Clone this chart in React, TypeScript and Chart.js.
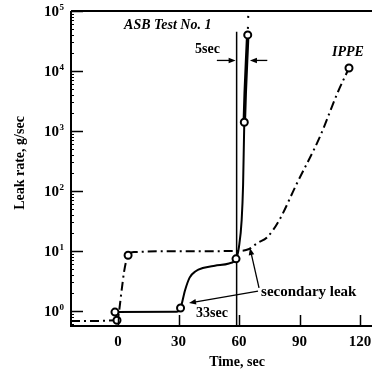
import { useEffect, useRef } from 'react';
import { Chart, registerables } from 'chart.js';

Chart.register(...registerables);

// ---- data ----
const asbTime = [-1.5, 29, 31, 33.2, 35.5, 38.5, 42, 48, 55, 58.5, 60, 61.3, 62, 62.6, 64.3];
const asbRate = [0.96, 0.97, 1.12, 2.2, 3.6, 4.6, 5.2, 5.7, 6.2, 7.4, 12, 33, 126, 1400, 40000];
const asbMarked = [true, false, true, false, false, false, false, false, false, true, false, false, false, true, true];

const asbTraceTime = [64.3, 64.6];
const asbTraceRate = [40000, 95000];

const ippeTime = [-23.3, -0.5, 2, 3, 5, 8, 30, 58, 65, 69, 74, 80, 88.3, 100, 109, 114.5];
const ippeRate = [0.68, 0.7, 2.5, 4.5, 8.5, 9.6, 9.9, 10, 10.8, 13.5, 17, 33, 126, 790, 4470, 11200];
const ippeMarked = [false, true, false, false, true, false, false, false, false, false, false, false, false, false, false, true];

const refLineTime = [58.8, 58.8];
const refLineRate = [0.5623, 45000];

const xTicks = [0, 30, 60, 90, 120];
const yTickExponents = [0, 1, 2, 3, 4, 5];

const xMin = -23.3;
const xMax = 125.9;
const yMin = 0.5623;
const yMax = 1e5;

// annotation anchors (data coordinates)
const fiveSecLeft = { from: [49, 15000], to: [58.3, 15000] };
const fiveSecRight = { from: [74, 15000], to: [65.4, 15000] };
const leakArrowUp = { from: [69.9, 2.42], to: [65.4, 11.2] };
const leakArrowLeft = { from: [69.4, 2.15], to: [35.2, 1.36] };

const pts = (xs: number[], ys: number[]) => xs.map((x, i) => ({ x, y: ys[i] }));

const SERIF = '"Liberation Serif", "DejaVu Serif", serif';

const overlay = {
  id: 'overlay',
  afterDraw(chart: any) {
    const { ctx, chartArea: a, scales } = chart;
    const xs = scales.x;
    const ys = scales.y;
    const px = (v: number) => xs.getPixelForValue(v);
    const py = (v: number) => ys.getPixelForValue(v);
    ctx.save();
    ctx.strokeStyle = '#000';
    ctx.fillStyle = '#000';

    // frame
    ctx.lineWidth = 2;
    ctx.beginPath();
    ctx.moveTo(a.left, a.top);
    ctx.lineTo(a.right, a.top);
    ctx.moveTo(a.left, a.top);
    ctx.lineTo(a.left, a.bottom);
    ctx.lineTo(a.right, a.bottom);
    ctx.stroke();

    // ticks
    ctx.lineWidth = 1.5;
    ctx.beginPath();
    yTickExponents.forEach((e) => {
      const y = Math.round(py(Math.pow(10, e))) + 0.5;
      ctx.moveTo(a.left, y);
      ctx.lineTo(a.left + 12, y);
    });
    xTicks.forEach((t) => {
      const x = Math.round(px(t)) + 0.5;
      ctx.moveTo(x, a.bottom);
      ctx.lineTo(x, a.bottom - 11);
    });
    ctx.stroke();
    // minor y ticks
    ctx.lineWidth = 1;
    ctx.beginPath();
    for (let e = -1; e < 5; e++) {
      for (let m = 2; m < 10; m++) {
        const v = m * Math.pow(10, e);
        if (v < yMin || v > yMax) continue;
        const y = Math.round(py(v)) + 0.5;
        ctx.moveTo(a.left, y);
        ctx.lineTo(a.left + 3, y);
      }
    }
    ctx.stroke();

    // tick labels
    ctx.textBaseline = 'middle';
    yTickExponents.forEach((e) => {
      const y = py(Math.pow(10, e)) + 1;
      ctx.font = `bold 15px ${SERIF}`;
      ctx.textAlign = 'right';
      ctx.fillText('10', 59, y);
      ctx.font = `bold 9px ${SERIF}`;
      ctx.textAlign = 'left';
      ctx.fillText(String(e), 59.5, y - 4);
    });
    ctx.font = `bold 15px ${SERIF}`;
    ctx.textAlign = 'center';
    xTicks.forEach((t) => {
      ctx.fillText(String(t), px(t), 342);
    });

    // axis titles
    ctx.font = `bold 14px ${SERIF}`;
    ctx.fillText('Time, sec', 237, 362);
    ctx.save();
    ctx.translate(20, 163);
    ctx.rotate(-Math.PI / 2);
    ctx.fillText('Leak rate, g/sec', 0, 0);
    ctx.restore();

    // annotation texts
    ctx.textAlign = 'left';
    ctx.font = `italic bold 14px ${SERIF}`;
    ctx.fillText('ASB Test No. 1', px(3), py(58600));
    ctx.textAlign = 'center';
    ctx.fillText('IPPE', px(114), py(20700));
    ctx.textAlign = 'left';
    ctx.font = `bold 14px ${SERIF}`;
    ctx.fillText('5sec', px(38.2), py(23300));
    ctx.font = `bold 15px ${SERIF}`;
    ctx.fillText('secondary leak', px(70.9), py(2.07));
    ctx.font = `bold 14px ${SERIF}`;
    ctx.fillText('33sec', px(38.7), py(0.926));

    // arrows
    const arrow = (p: { from: number[]; to: number[] }, w: number) => {
      const x0 = px(p.from[0]);
      const y0 = py(p.from[1]);
      const x1 = px(p.to[0]);
      const y1 = py(p.to[1]);
      const ang = Math.atan2(y1 - y0, x1 - x0);
      ctx.lineWidth = w;
      ctx.beginPath();
      ctx.moveTo(x0, y0);
      ctx.lineTo(x1 - 4 * Math.cos(ang), y1 - 4 * Math.sin(ang));
      ctx.stroke();
      const L = 7;
      const H = 2.8;
      ctx.beginPath();
      ctx.moveTo(x1, y1);
      ctx.lineTo(x1 - L * Math.cos(ang) + H * Math.sin(ang), y1 - L * Math.sin(ang) - H * Math.cos(ang));
      ctx.lineTo(x1 - L * Math.cos(ang) - H * Math.sin(ang), y1 - L * Math.sin(ang) + H * Math.cos(ang));
      ctx.closePath();
      ctx.fill();
    };
    arrow(fiveSecLeft, 1.3);
    arrow(fiveSecRight, 1.3);
    arrow(leakArrowUp, 1.3);
    arrow(leakArrowLeft, 1.3);

    ctx.restore();
  },
};

export default function App() {
  const ref = useRef<HTMLCanvasElement>(null);
  useEffect(() => {
    const chart = new Chart(ref.current as HTMLCanvasElement, {
      type: 'line',
      data: {
        datasets: [
          {
            label: 'ASB Test No. 1',
            data: pts(asbTime, asbRate),
            borderColor: '#000',
            borderWidth: 2,
            cubicInterpolationMode: 'monotone',
            pointRadius: asbMarked.map((m) => (m ? 3.5 : 0)),
            pointBorderWidth: 2,
            pointBackgroundColor: '#fff',
            pointBorderColor: '#000',
            segment: {
              borderWidth: (c: any) => (asbTime[c.p0DataIndex] >= 62.6 ? 3.5 : 2),
            },
          } as any,
          {
            label: 'ASB trace',
            data: pts(asbTraceTime, asbTraceRate),
            borderColor: '#000',
            borderWidth: 2,
            borderDash: [2, 9],
            borderDashOffset: -6,
            pointRadius: 0,
          },
          {
            label: 'IPPE',
            data: pts(ippeTime, ippeRate),
            borderColor: '#000',
            borderWidth: 2,
            borderDash: [9, 4, 2, 4],
            cubicInterpolationMode: 'monotone',
            pointRadius: ippeMarked.map((m) => (m ? 3.5 : 0)),
            pointBorderWidth: 2,
            pointBackgroundColor: '#fff',
            pointBorderColor: '#000',
          } as any,
          {
            label: 'reference',
            data: pts(refLineTime, refLineRate),
            borderColor: '#000',
            borderWidth: 1.5,
            pointRadius: 0,
          },
        ],
      },
      options: {
        responsive: false,
        animation: false,
        events: [],
        layout: { autoPadding: false, padding: { top: 11, left: 0, right: 0, bottom: 0 } },
        plugins: { legend: { display: false }, tooltip: { enabled: false } },
        scales: {
          x: {
            type: 'linear',
            min: xMin,
            max: xMax,
            ticks: { display: false },
            grid: { display: false },
            border: { display: false },
            afterFit: (s: any) => {
              s.height = 44;
            },
          },
          y: {
            type: 'logarithmic',
            min: yMin,
            max: yMax,
            ticks: { display: false },
            grid: { display: false },
            border: { display: false },
            afterFit: (s: any) => {
              s.width = 71;
            },
          },
        },
      } as any,
      plugins: [overlay],
    });
    return () => chart.destroy();
  }, []);
  return (
    <div style={{ position: 'absolute', left: 0, top: 0, width: 372, height: 370, background: '#fff' }}>
      <canvas ref={ref} width={372} height={370} style={{ display: 'block', width: 372, height: 370 }} />
    </div>
  );
}
